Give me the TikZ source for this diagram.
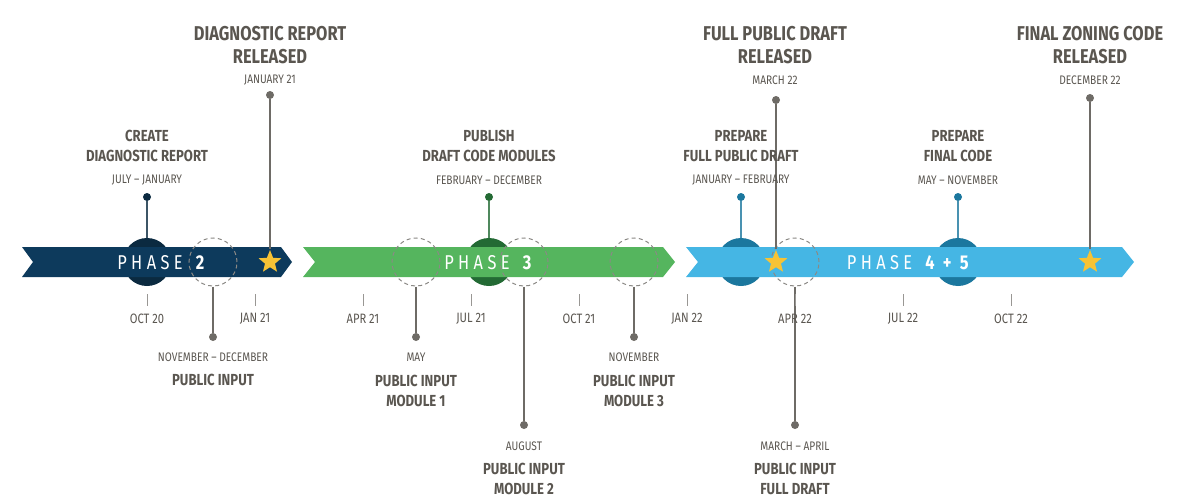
\documentclass[tikz,border=0pt]{standalone}
\usepackage{fontspec}
\setmainfont{Fira Sans}[FakeStretch=0.82]
\usetikzlibrary{shapes.geometric}
\definecolor{navy}{HTML}{0D3A5C}
\definecolor{navyd}{HTML}{0B2A40}
\definecolor{grn}{HTML}{55B55E}
\definecolor{grnd}{HTML}{236A34}
\definecolor{sky}{HTML}{45B6E4}
\definecolor{skyd}{HTML}{1B779E}
\definecolor{txt}{HTML}{5A5650}
\definecolor{ln}{HTML}{6E6B66}
\definecolor{gold}{HTML}{F7C335}
\tikzset{
 x=0.5pt,y=-0.5pt,
 title/.style={font=\fontsize{10}{11.5}\selectfont\bfseries,text=txt,align=center,inner sep=0},
 mid/.style={font=\fontsize{8}{10}\selectfont\bfseries,text=txt,align=center,inner sep=0},
 small/.style={font=\fontsize{6.2}{7}\selectfont,text=txt,inner sep=0},
 dot/.style={circle,fill=#1,inner sep=0,minimum size=4pt},
 dcirc/.style={circle,draw=ln!80,dashed,dash pattern=on 2pt off 1.6pt,line width=0.5pt,minimum size=24pt,inner sep=0},
 bcirc/.style={circle,fill=#1,minimum size=24pt,inner sep=0},
 star5/.style={star,star points=5,star point ratio=2.3,fill=gold,minimum size=12pt,inner sep=0},
 stem/.style={draw=ln,line width=0.7pt},
 tick/.style={draw=ln!70,line width=0.5pt},
 phase/.style={text=white,inner sep=0,font=\fontsize{10}{12}\selectfont\addfontfeature{LetterSpace=22}}
}
\begin{document}
\begin{tikzpicture}
\useasboundingbox (0,0) rectangle (1200,503);
% dark circles
\foreach \n/\x/\c in {c2/147/navyd,c3/489/grnd,c4/741/skyd,c5/958/skyd}{
 \node[bcirc=\c] (\n) at (\x,262) {};
 \node[dot=\c] (\n t) at (\x,197) {};
 \draw[\c!80,line width=0.9pt] (\n t) -- (\n.north);
}
% bands
\fill[navy] (22,247)--(281,247)--(292,262)--(281,277)--(22,277)--(33,262)--cycle;
\fill[grn] (303,247)--(663,247)--(675,262)--(663,277)--(303,277)--(315,262)--cycle;
\fill[sky] (686,247)--(1122,247)--(1134,262)--(1122,277)--(686,277)--(698,262)--cycle;
% phase texts
\node[phase] (p2) at (163,263) {PHASE \textbf{2}};
\node[phase] (p3) at (490,263) {PHASE \textbf{3}};
\node[phase] (p4) at (910,263) {PHASE \textbf{4 + 5}};
% dashed circles
\foreach \n/\x in {d1/213,d2/416,d3/524,d4/634,d5/795}{\node[dcirc] (\n) at (\x,262) {};}
% stars and top lines
\foreach \n/\x/\y in {s1/270/95,s2/776/100,s3/1090/98}{
 \node[star5] (\n) at (\x,262) {};
 \node[dot=ln] (\n t) at (\x,\y) {};
 \draw[stem] (\n t) -- (\n.north);
}
% bottom stems
\foreach \n/\y in {d1/337,d2/337,d4/337,d3/425,d5/425}{
 \node[dot=ln] (\n b) at (\n.south |- 0,\y) {};
 \draw[stem] (\n.south) -- (\n b);
}
% ticks
\foreach \x/\l in {147/OCT 20,255/JAN 21,363/APR 21,471/JUL 21,579/OCT 21,687/JAN 22,795/APR 22,903/JUL 22,1011/OCT 22}{
 \coordinate (ta\x) at (\x,294); \coordinate (tb\x) at (\x,306);
 \draw[tick] (ta\x) -- (tb\x);
 \node[small,font=\fontsize{6.8}{8}\selectfont] (tl\x) at (\x,319) {\l};
}
% top labels
\node[mid] (l1) at (147,146) {CREATE\\DIAGNOSTIC REPORT};
\node[small] (l1d) at (147,180) {JULY – JANUARY};
\node[mid] (l2) at (489,146) {PUBLISH\\DRAFT CODE MODULES};
\node[small] (l2d) at (489,180) {FEBRUARY – DECEMBER};
\node[mid] (l3) at (741,146) {PREPARE\\FULL PUBLIC DRAFT};
\node[small] (l3d) at (741,180) {JANUARY – FEBRUARY};
\node[mid] (l4) at (958,146) {PREPARE\\FINAL CODE};
\node[small] (l4d) at (958,180) {MAY – NOVEMBER};
% titles
\node[title] (t1) at (270,45) {DIAGNOSTIC REPORT\\RELEASED};
\node[small] (t1d) at (270,80) {JANUARY 21};
\node[title] (t2) at (775,45) {FULL PUBLIC DRAFT\\RELEASED};
\node[small] (t2d) at (775,80) {MARCH 22};
\node[title] (t3) at (1090,45) {FINAL ZONING CODE\\RELEASED};
\node[small] (t3d) at (1090,80) {DECEMBER 22};
% bottom labels
\node[small] (b1d) at (213,357) {NOVEMBER – DECEMBER};
\node[mid] (b1) at (213,380) {PUBLIC INPUT};
\node[small] (b2d) at (416,357) {MAY};
\node[mid] (b2) at (416,391) {PUBLIC INPUT\\MODULE 1};
\node[small] (b4d) at (634,357) {NOVEMBER};
\node[mid] (b4) at (634,391) {PUBLIC INPUT\\MODULE 3};
\node[small] (b3d) at (524,446) {AUGUST};
\node[mid] (b3) at (524,479) {PUBLIC INPUT\\MODULE 2};
\node[small] (b5d) at (795,446) {MARCH – APRIL};
\node[mid] (b5) at (795,479) {PUBLIC INPUT\\FULL DRAFT};
\end{tikzpicture}
\end{document}
